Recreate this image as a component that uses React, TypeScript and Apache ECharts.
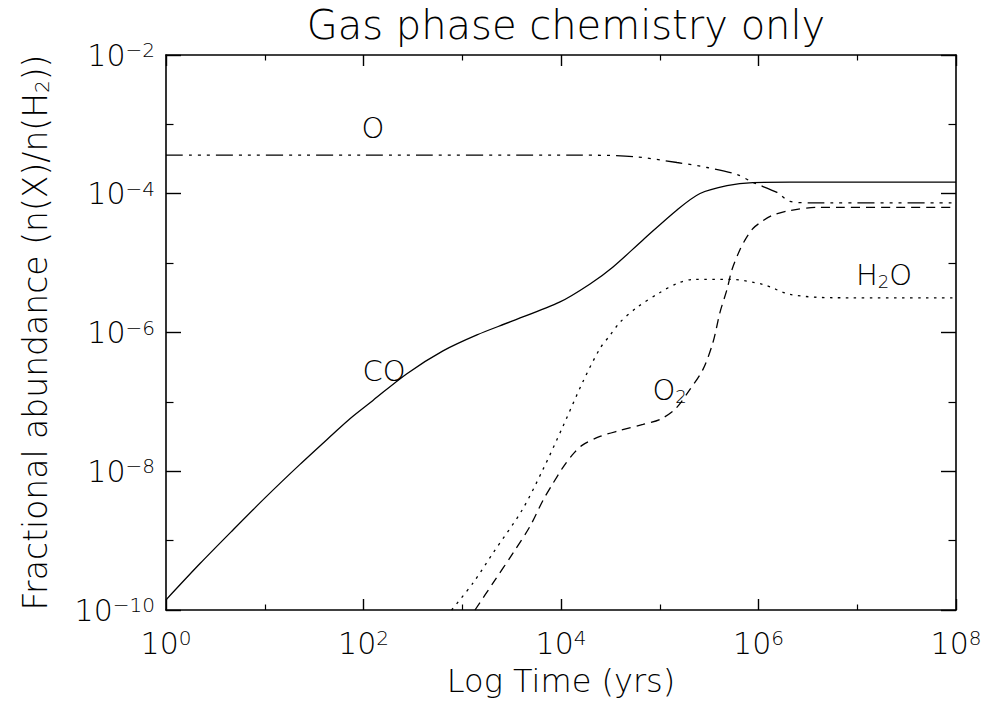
import React, { useEffect, useRef } from "react";
import * as echarts from "echarts";

// ---- tick values ----
const xMajorTicks = [1, 1e2, 1e4, 1e6, 1e8];
const xMinorTicks = [1e1, 1e3, 1e5, 1e7];
const yMajorTicks = [1e-10, 1e-8, 1e-6, 1e-4, 1e-2];
const yMinorTicks = [1e-9, 1e-7, 1e-5, 1e-3];

// ---- series: [time (yrs), fractional abundance] ----
const seriesCO: [number, number][] = [
  [1, 1.4e-10], [2.21, 4.67e-10], [4.77, 1.426e-9], [10.3, 4.27e-9], [22.75, 1.256e-8],
  [49.1, 3.44e-8], [72.9, 5.73e-8], [124.7, 1.05e-7], [275, 2.55e-7], [638, 5.43e-7],
  [1409, 9.23e-7], [3048, 1.42e-6], [9772, 2.76e-6], [19680, 5.01e-6], [33650, 8.81e-6],
  [67610, 2.16e-5], [149600, 5.85e-5], [255900, 1.007e-4], [479700, 1.31e-4],
  [879000, 1.45e-4], [2.084e6, 1.47e-4], [1e8, 1.47e-4],
];

const seriesO: [number, number][] = [
  [1, 3.6e-4], [100, 3.6e-4], [15560, 3.6e-4], [53580, 3.44e-4], [149600, 2.82e-4],
  [301300, 2.39e-4], [605300, 1.9e-4], [879000, 1.455e-4], [1.538e6, 1.045e-4],
  [2.084e6, 7.76e-5], [3.327e6, 7.41e-5], [1e8, 7.41e-5],
];

const seriesH2O: [number, number][] = [
  [780, 1.0e-10], [1294, 2.48e-10], [2061, 6.71e-10], [4027, 2.74e-9], [6577, 1.064e-8],
  [10470, 4.44e-8], [16710, 1.97e-7], [24830, 5.9e-7], [31330, 9.08e-7], [39540, 1.4e-6],
  [58880, 2.3e-6], [100700, 3.78e-6], [149600, 5.09e-6], [217300, 5.82e-6],
  [514000, 5.82e-6], [1.112e6, 4.93e-6], [2.084e6, 3.54e-6], [5.675e6, 3.17e-6],
  [1e8, 3.15e-6],
];

const seriesO2: [number, number][] = [
  [1346, 1.0e-10], [2061, 2.48e-10], [3289, 6.71e-10], [4853, 1.61e-9], [6577, 3.81e-9],
  [8299, 6.7e-9], [10470, 1.138e-8], [12910, 1.694e-8], [16330, 2.36e-8], [24830, 3.18e-8],
  [39540, 3.88e-8], [67610, 4.74e-8], [100700, 5.6e-8], [142600, 7.8e-8], [202300, 1.51e-7],
  [274200, 2.94e-7], [345900, 7.19e-7], [407400, 1.95e-6], [479700, 4.18e-6],
  [539500, 8.11e-6], [650100, 1.574e-5], [746600, 2.27e-5], [879000, 3.16e-5],
  [1.084e6, 3.99e-5], [1.37e6, 4.86e-5], [2.084e6, 5.74e-5], [3.908e6, 6.35e-5],
  [1e8, 6.35e-5],
];

// ---- in-plot labels: anchor (time, abundance) and rich text ----
const labelTexts = ["{n|O}", "{n|CO}", "{n|H}{sub|2}{n|O}", "{n|O}{sub|2}"];
const labelTimes = [124.7, 161.4, 1.866e7, 125600];
const labelAbund = [8.73e-4, 2.75e-7, 6.65e-6, 1.466e-7];

const titleText = "Gas phase chemistry only";
const xName = "Log Time (yrs)";
const yNameParts = ["Fractional abundance (n(X)/n(H", "2", "))"];

const FONT = "'DejaVu Sans', sans-serif";
const FW = 200;

const tickRich = {
  b: { fontFamily: FONT, fontWeight: FW, fontSize: 30, lineHeight: 30, color: "#000" },
  s: { fontFamily: FONT, fontWeight: FW, fontSize: 20, lineHeight: 13, verticalAlign: "top", color: "#000" },
};

const fmtPow = (v: number) => {
  const e = Math.round(Math.log10(v));
  const es = e < 0 ? "\u2212" + String(-e) : String(e);
  return `{b|10}{s|${es}}`;
};

export default function App() {
  const ref = useRef<HTMLDivElement>(null);

  useEffect(() => {
    if (!ref.current) return;
    const chart = echarts.init(ref.current, null, { renderer: "svg" });

    const lineCommon = { color: "#000", width: 1.3 };

    const xBase = {
      type: "log" as const,
      logBase: 10,
      min: 1,
      max: 1e8,
      splitNumber: 8,
      splitLine: { show: false },
      gridIndex: 0,
    };
    const yBase = {
      type: "log" as const,
      logBase: 10,
      min: 1e-10,
      max: 1e-2,
      splitNumber: 8,
      splitLine: { show: false },
      gridIndex: 0,
    };
    const axLine = { show: true, lineStyle: { color: "#000", width: 1.6 } };

    const lineSeries = (name: string, data: [number, number][], type: any) => ({
      name,
      type: "line",
      data,
      showSymbol: false,
      smooth: 0.3,
      clip: true,
      lineStyle: { ...lineCommon, type },
    });

    const option: any = {
      animation: false,
      backgroundColor: "#fff",
      title: {
        text: titleText,
        left: 561,
        textAlign: "center",
        top: 0,
        textStyle: { fontFamily: FONT, fontWeight: FW, fontSize: 40, color: "#000" },
      },
      grid: { left: 166, right: 29, top: 55, bottom: 96, containLabel: false },
      xAxis: [
        {
          ...xBase,
          position: "bottom",
          axisLine: axLine,
          axisTick: { show: true, inside: true, length: 11, customValues: xMajorTicks, lineStyle: { color: "#000", width: 1.4 } },
          axisLabel: { show: true, customValues: xMajorTicks, formatter: fmtPow, rich: tickRich, margin: 18, color: "#000" },
          name: xName,
          nameLocation: "middle",
          nameGap: 55,
          nameTextStyle: { fontFamily: FONT, fontWeight: FW, fontSize: 32, color: "#000" },
        },
        {
          ...xBase,
          position: "bottom",
          axisLine: { show: false },
          axisTick: { show: true, inside: true, length: 5.5, customValues: xMinorTicks, lineStyle: { color: "#000", width: 1.2 } },
          axisLabel: { show: false },
        },
        {
          ...xBase,
          position: "top",
          axisLine: axLine,
          axisTick: { show: true, inside: true, length: 11, customValues: xMajorTicks, lineStyle: { color: "#000", width: 1.4 } },
          axisLabel: { show: false },
        },
        {
          ...xBase,
          position: "top",
          axisLine: { show: false },
          axisTick: { show: true, inside: true, length: 5.5, customValues: xMinorTicks, lineStyle: { color: "#000", width: 1.2 } },
          axisLabel: { show: false },
        },
      ],
      yAxis: [
        {
          ...yBase,
          position: "left",
          axisLine: axLine,
          axisTick: { show: true, inside: true, length: 15, customValues: yMajorTicks, lineStyle: { color: "#000", width: 1.4 } },
          axisLabel: { show: true, customValues: yMajorTicks, formatter: fmtPow, rich: tickRich, margin: 11, color: "#000" },
          name: `{a|${yNameParts[0]}}{sub|${yNameParts[1]}}{a|${yNameParts[2]}}`,
          nameLocation: "middle",
          nameGap: 114,
          nameRotate: 90,
          nameTextStyle: {
            rich: {
              a: { fontFamily: FONT, fontWeight: FW, fontSize: 33, lineHeight: 34, color: "#000" },
              sub: { fontFamily: FONT, fontWeight: FW, fontSize: 20, lineHeight: 14, verticalAlign: "bottom", color: "#000" },
            },
          },
        },
        {
          ...yBase,
          position: "left",
          axisLine: { show: false },
          axisTick: { show: true, inside: true, length: 7.5, customValues: yMinorTicks, lineStyle: { color: "#000", width: 1.2 } },
          axisLabel: { show: false },
        },
        {
          ...yBase,
          position: "right",
          axisLine: axLine,
          axisTick: { show: true, inside: true, length: 15, customValues: yMajorTicks, lineStyle: { color: "#000", width: 1.4 } },
          axisLabel: { show: false },
        },
        {
          ...yBase,
          position: "right",
          axisLine: { show: false },
          axisTick: { show: true, inside: true, length: 7.5, customValues: yMinorTicks, lineStyle: { color: "#000", width: 1.2 } },
          axisLabel: { show: false },
        },
      ],
      series: [
        lineSeries("O", seriesO, [17, 6, 3, 6, 3, 6, 3, 6]),
        lineSeries("CO", seriesCO, "solid"),
        lineSeries("H2O", seriesH2O, [2.5, 5.5]),
        lineSeries("O2", seriesO2, [9, 6]),
        {
          name: "labels",
          type: "scatter",
          symbolSize: 1,
          itemStyle: { color: "transparent", opacity: 1 },
          silent: true,
          data: labelTexts.map((t, i) => ({
            value: [labelTimes[i], labelAbund[i]],
            label: { formatter: t },
          })),
          label: {
            show: true,
            position: "inside",
            color: "#000",
            opacity: 1,
            rich: {
              n: { fontFamily: FONT, fontWeight: FW, fontSize: 29, lineHeight: 30, color: "#000" },
              sub: { fontFamily: FONT, fontWeight: FW, fontSize: 18, lineHeight: 12, verticalAlign: "bottom", color: "#000" },
            },
          },
        },
      ],
    };

    chart.setOption(option);
    return () => chart.dispose();
  }, []);

  return (
    <div
      ref={ref}
      style={{ position: "fixed", left: 0, top: 0, width: 985, height: 706, background: "#fff" }}
    />
  );
}
